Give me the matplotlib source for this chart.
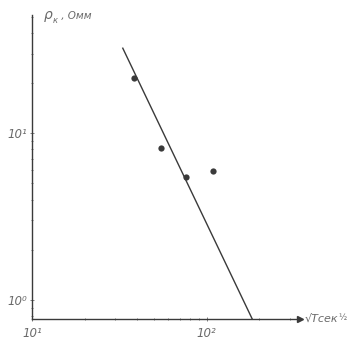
import matplotlib
matplotlib.use('Agg')
import matplotlib.pyplot as plt
from matplotlib.ticker import LogLocator, NullFormatter, FixedLocator, FixedFormatter

# Измеренные точки: sqrt(T), сек^1/2 и rho_k, Омм
sqrt_t = [38.3, 54.6, 75.9, 108.0]
rho_k = [21.3, 8.2, 5.45, 5.9]

# Прямая аппроксимации (концы)
fit_x = [33.1, 183.0]
fit_y = [32.3, 0.76]

# Подписи делений
x_ticks = [10, 100]
x_tick_labels = ["10¹", "10²"]
y_ticks = [1, 10]
y_tick_labels = ["10⁰", "10¹"]

ink = '#3a3a3a'
grey = '#6a6a6a'

fig = plt.figure(figsize=(3.62, 3.43), dpi=100)
ax = fig.add_axes([0.088, 0.07, 0.74, 0.886])
ax.set_xscale('log')
ax.set_yscale('log')
ax.set_xlim(10, 340)
ax.set_ylim(0.77, 51)

ax.plot(fit_x, fit_y, color=ink, lw=1.0)
ax.plot(sqrt_t, rho_k, 'o', color=ink, ms=4.5, mec='none')

for s in ['top', 'right']:
    ax.spines[s].set_visible(False)
for s in ['left', 'bottom']:
    ax.spines[s].set_color(ink)
    ax.spines[s].set_linewidth(1.0)

# стрелка на оси абсцисс
ax.plot(1, 0, '>', transform=ax.transAxes, color=ink, ms=4, clip_on=False)

ax.xaxis.set_major_locator(FixedLocator(x_ticks))
ax.xaxis.set_major_formatter(FixedFormatter(x_tick_labels))
ax.yaxis.set_major_locator(FixedLocator(y_ticks))
ax.yaxis.set_major_formatter(FixedFormatter(y_tick_labels))
ax.xaxis.set_minor_locator(LogLocator(base=10, subs=range(2, 10)))
ax.yaxis.set_minor_locator(LogLocator(base=10, subs=range(2, 10)))
ax.xaxis.set_minor_formatter(NullFormatter())
ax.yaxis.set_minor_formatter(NullFormatter())
ax.tick_params(which='both', direction='inout', color=grey, width=0.6)
ax.tick_params(which='major', length=3, labelsize=8.5, labelcolor=grey, pad=2)
ax.tick_params(axis='x', which='major', pad=4)
ax.tick_params(which='minor', length=2)
for lab in ax.get_xticklabels() + ax.get_yticklabels():
    lab.set_fontstyle('italic')

# подписи осей
t1 = ax.text(0.045, 1.0, 'ρ', transform=ax.transAxes, fontsize=10, color=grey,
             style='italic', va='center', ha='left')
t2 = ax.annotate('к', xy=(1, 0), xycoords=t1, xytext=(0, 1), textcoords='offset points',
                 fontsize=6, color=grey, style='italic', va='center', ha='left')
ax.annotate(' , Омм', xy=(1, 0.5), xycoords=t2, xytext=(0, 0), textcoords='offset points',
            fontsize=7.5, color=grey, style='italic', va='bottom', ha='left')
t3 = ax.text(1.02, 0.0, '√Tсек', transform=ax.transAxes, fontsize=8, color=grey,
             style='italic', va='center', ha='left')
ax.annotate('½', xy=(1, 0.6), xycoords=t3, fontsize=6, color=grey,
            va='center', ha='left')

fig.savefig('out.png', dpi=100, facecolor='white')
